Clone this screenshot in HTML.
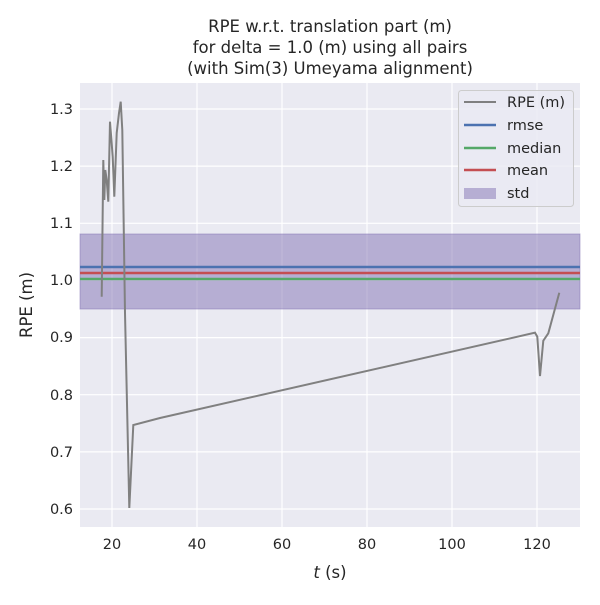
<!DOCTYPE html>
<html><head><style>body{margin:0;background:#fff}</style></head><body>
<svg width="600" height="600" xmlns="http://www.w3.org/2000/svg" font-family="DejaVu Sans, Liberation Sans, sans-serif" fill="#262626">
<rect x="0" y="0" width="600" height="600" fill="#fff"/>
<rect x="80" y="83" width="500" height="444" fill="#eaeaf2"/>
<g stroke="#fff" stroke-width="1.2">
<line x1="112" y1="83" x2="112" y2="527"/><line x1="197" y1="83" x2="197" y2="527"/><line x1="282" y1="83" x2="282" y2="527"/><line x1="367" y1="83" x2="367" y2="527"/><line x1="452" y1="83" x2="452" y2="527"/><line x1="537" y1="83" x2="537" y2="527"/>
<line x1="80" y1="109" x2="580" y2="109"/><line x1="80" y1="166.1" x2="580" y2="166.1"/><line x1="80" y1="223.3" x2="580" y2="223.3"/><line x1="80" y1="280.4" x2="580" y2="280.4"/><line x1="80" y1="337.6" x2="580" y2="337.6"/><line x1="80" y1="394.7" x2="580" y2="394.7"/><line x1="80" y1="451.9" x2="580" y2="451.9"/><line x1="80" y1="509" x2="580" y2="509"/>
</g>
<rect x="80" y="234" width="500" height="75" fill="#8172b3" fill-opacity="0.5" stroke="#8172b3" stroke-opacity="0.5"/>
<line x1="80" y1="267" x2="580" y2="267" stroke="#4c72b0" stroke-width="2.5"/>
<line x1="80" y1="279" x2="580" y2="279" stroke="#55a868" stroke-width="2.5"/>
<line x1="80" y1="273" x2="580" y2="273" stroke="#c44e52" stroke-width="2.5"/>
<polyline fill="none" stroke="#808080" stroke-width="2" points="101.7,296.7 103.3,160 104.3,200 105.3,170 106.7,180 108.3,201.7 110,121.7 112.7,156.7 114.3,196.7 116.7,133 119,113 120.7,101.7 122.3,130 125,313 129.3,508 133.3,425 160,418 535,332.7 537.3,336.7 540,376 543.3,340.7 548.3,333.3 559.3,292.7"/>
<g font-size="14.5" text-anchor="middle">
<text x="112" y="549">20</text><text x="197" y="549">40</text><text x="282" y="549">60</text><text x="367" y="549">80</text><text x="452" y="549">100</text><text x="537" y="549">120</text>
</g>
<g font-size="14.5" text-anchor="end">
<text x="73" y="114">1.3</text><text x="73" y="171">1.2</text><text x="73" y="228">1.1</text><text x="73" y="285">1.0</text><text x="73" y="342">0.9</text><text x="73" y="400">0.8</text><text x="73" y="457">0.7</text><text x="73" y="514">0.6</text>
</g>
<text x="330" y="578" font-size="16.5" text-anchor="middle"><tspan font-style="italic">t</tspan> (s)</text>
<text transform="translate(32,305) rotate(-90)" font-size="16.5" text-anchor="middle">RPE (m)</text>
<g font-size="16.5" text-anchor="middle">
<text x="330" y="32">RPE w.r.t. translation part (m)</text>
<text x="330" y="53">for delta = 1.0 (m) using all pairs</text>
<text x="330" y="74">(with Sim(3) Umeyama alignment)</text>
</g>
<rect x="458.5" y="90.5" width="115" height="116" rx="3" fill="#eaeaf2" fill-opacity="0.8" stroke="#cccccc"/>
<line x1="464" y1="102" x2="496" y2="102" stroke="#808080" stroke-width="2"/>
<line x1="464" y1="125" x2="496" y2="125" stroke="#4c72b0" stroke-width="2.5"/>
<line x1="464" y1="148" x2="496" y2="148" stroke="#55a868" stroke-width="2.5"/>
<line x1="464" y1="170" x2="496" y2="170" stroke="#c44e52" stroke-width="2.5"/>
<rect x="464" y="188" width="32" height="11" fill="#8172b3" fill-opacity="0.5"/>
<g font-size="14.5">
<text x="507" y="107">RPE (m)</text><text x="507" y="130">rmse</text><text x="507" y="153">median</text><text x="507" y="175">mean</text><text x="507" y="198">std</text>
</g>
</svg>
</body></html>
